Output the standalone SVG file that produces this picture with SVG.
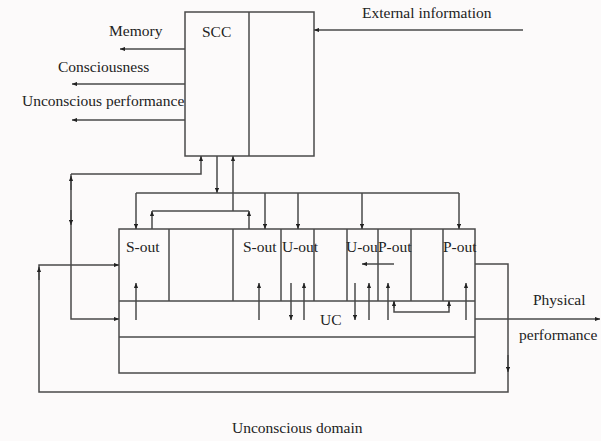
<svg xmlns="http://www.w3.org/2000/svg" width="601" height="441" viewBox="0 0 601 441">
  <defs>
    <marker id="ah" viewBox="0 0 6 5" refX="6" refY="2.5" markerWidth="5" markerHeight="4.5" markerUnits="userSpaceOnUse" orient="auto-start-reverse">
      <path d="M0,0 L6,2.5 L0,5 z" fill="#222"/>
    </marker>
  </defs>
  <style>
    .box { fill: none; stroke: #4a4a4a; stroke-width: 1.5; }
    .ln { fill: none; stroke: #4a4a4a; stroke-width: 1.5; }
    .ar { fill: none; stroke: #4a4a4a; stroke-width: 1.5; marker-end: url(#ah); }
    .t { font-family: "Liberation Serif", "Times New Roman", serif; font-size: 15.5px; fill: #222; }
  </style>
  <rect x="0" y="0" width="601" height="441" fill="#fcfafa"/>

  <g id="scc">
    <rect class="box" x="185" y="12" width="129" height="144"/>
    <line class="ln" x1="249" y1="12" x2="249" y2="156"/>
    <text class="t" x="202" y="37">SCC</text>
  </g>

  <g id="uc">
    <rect class="box" x="119" y="229" width="356" height="144" fill="#f8f8f8"/>
    <line class="ln" x1="119" y1="301" x2="475" y2="301"/>
    <line class="ln" x1="119" y1="337" x2="475" y2="337"/>
    <text class="t" x="320" y="325">UC</text>
  </g>

  <g id="s-out-1">
    <line class="ln" x1="169" y1="229" x2="169" y2="301"/>
    <text class="t" x="126" y="252">S-out</text>
  </g>
  <g id="cell-empty-1">
    <line class="ln" x1="233" y1="229" x2="233" y2="301"/>
  </g>
  <g id="s-out-2">
    <line class="ln" x1="281" y1="229" x2="281" y2="301"/>
    <text class="t" x="243" y="252">S-out</text>
  </g>
  <g id="u-out-1">
    <line class="ln" x1="314" y1="229" x2="314" y2="301"/>
    <text class="t" x="282" y="252">U-out</text>
  </g>
  <g id="cell-empty-2">
    <line class="ln" x1="347" y1="229" x2="347" y2="301"/>
  </g>
  <g id="u-out-2">
    <line class="ln" x1="378" y1="229" x2="378" y2="301"/>
    <text class="t" x="346" y="252">U-ou</text>
  </g>
  <g id="p-out-1">
    <line class="ln" x1="411" y1="229" x2="411" y2="301"/>
    <text class="t" x="378" y="252">P-out</text>
  </g>
  <g id="cell-empty-3">
    <line class="ln" x1="443" y1="229" x2="443" y2="301"/>
  </g>
  <g id="p-out-2">
    <text class="t" x="443" y="252">P-out</text>
  </g>

  <g id="labels">
    <text class="t" x="362" y="18">External information</text>
    <text class="t" x="109" y="36">Memory</text>
    <text class="t" x="58" y="72">Consciousness</text>
    <text class="t" x="22" y="106">Unconscious performance</text>
    <text class="t" x="533" y="305">Physical</text>
    <text class="t" x="519" y="340">performance</text>
    <text class="t" x="232" y="433">Unconscious domain</text>
  </g>

  <g id="connectors">
    <line class="ar" x1="523" y1="30" x2="314" y2="30"/>
    <line class="ar" x1="185" y1="49" x2="120" y2="49"/>
    <line class="ar" x1="185" y1="84" x2="72" y2="84"/>
    <line class="ar" x1="185" y1="120" x2="72" y2="120"/>

    <polyline class="ar" points="71,174 201,174 201,156"/>
    <polyline class="ar" points="71,174 71,319 119,319"/>
    <line class="ar" x1="71" y1="190" x2="71" y2="176"/>
    <line class="ar" x1="71" y1="210" x2="71" y2="225"/>

    <line class="ar" x1="217" y1="156" x2="217" y2="193"/>
    <line class="ln" x1="136" y1="193" x2="459" y2="193"/>
    <line class="ar" x1="136" y1="193" x2="136" y2="229"/>
    <line class="ar" x1="265" y1="193" x2="265" y2="229"/>
    <line class="ar" x1="298" y1="193" x2="298" y2="229"/>
    <line class="ar" x1="362" y1="193" x2="362" y2="229"/>
    <line class="ar" x1="459" y1="193" x2="459" y2="229"/>

    <line class="ln" x1="152" y1="211" x2="249" y2="211"/>
    <line class="ar" x1="152" y1="229" x2="152" y2="211"/>
    <line class="ar" x1="249" y1="229" x2="249" y2="211"/>
    <line class="ar" x1="233" y1="211" x2="233" y2="156"/>

    <polyline class="ar" points="475,264 508,264 508,392 39,392 39,265 119,265"/>
    <line class="ar" x1="508" y1="355" x2="508" y2="372"/>
    <line class="ar" x1="39" y1="280" x2="39" y2="267"/>

    <line class="ar" x1="475" y1="319" x2="600" y2="319"/>

    <line class="ar" x1="136" y1="320" x2="136" y2="283"/>
    <line class="ar" x1="259" y1="320" x2="259" y2="283"/>
    <line class="ar" x1="291" y1="283" x2="291" y2="320"/>
    <line class="ar" x1="304" y1="320" x2="304" y2="283"/>
    <line class="ar" x1="355" y1="283" x2="355" y2="320"/>
    <line class="ar" x1="369" y1="320" x2="369" y2="283"/>
    <line class="ar" x1="388" y1="320" x2="388" y2="283"/>
    <line class="ar" x1="466" y1="320" x2="466" y2="283"/>
    <line class="ar" x1="394" y1="264" x2="362" y2="264"/>

    <polyline class="ln" points="394,301 394,312 449,312 449,301"/>
    <line class="ar" x1="394" y1="308" x2="394" y2="301"/>
    <line class="ar" x1="449" y1="308" x2="449" y2="301"/>
  </g>
</svg>
